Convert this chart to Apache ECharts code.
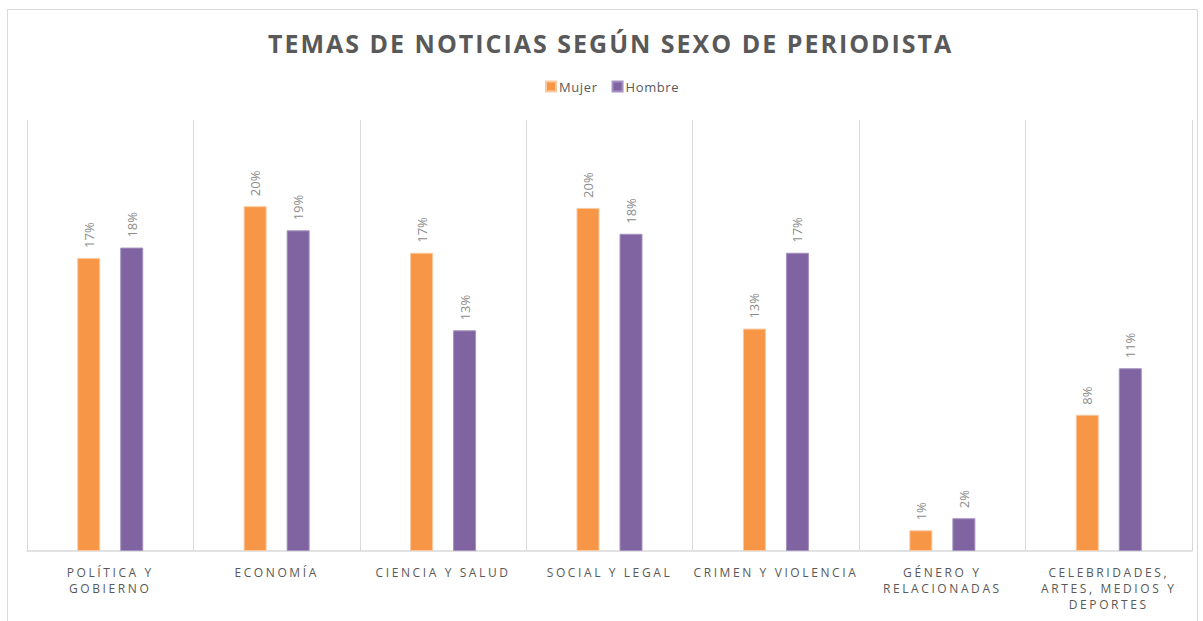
<!DOCTYPE html>
<html>
<head>
<meta charset="utf-8">
<script src="https://cdn.jsdelivr.net/npm/echarts@6/dist/echarts.min.js"></script>
<style>
  html, body { margin: 0; padding: 0; background: #fff; }
  #chart { width: 1203px; height: 621px; }
  /* spaced-out lettering like the original office chart */
  #chart text[fill="#595959"], #chart text[fill="rgb(89,89,89)"] { letter-spacing: 2px; }
  #chart text[fill="#585858"], #chart text[fill="rgb(88,88,88)"] { letter-spacing: 2.6px; }
  #chart text[fill="#5a5a5a"], #chart text[fill="rgb(90,90,90)"] { letter-spacing: 0.6px; }
</style>
</head>
<body>
<div id="chart"></div>
<script>
const titleText = "TEMAS DE NOTICIAS SEGÚN SEXO DE PERIODISTA";
const categories = [
  "POLÍTICA Y\nGOBIERNO",
  "ECONOMÍA",
  "CIENCIA Y SALUD",
  "SOCIAL Y LEGAL",
  "CRIMEN Y VIOLENCIA",
  "GÉNERO Y\nRELACIONADAS",
  "CELEBRIDADES,\nARTES, MEDIOS Y\nDEPORTES",
];
const seriesNames = ["Mujer", "Hombre"];
const mujer = [17.0, 20.0, 17.3, 19.9, 12.9, 1.2, 7.9];
const hombre = [17.6, 18.6, 12.8, 18.4, 17.3, 1.9, 10.6];

const chart = echarts.init(document.getElementById("chart"), null, { renderer: "svg" });

const labelCfg = {
  show: true,
  position: "top",
  rotate: 90,
  align: "left",
  verticalAlign: "middle",
  distance: 10,
  color: "#8c8c8c",
  fontSize: 13,
  fontFamily: "Open Sans",
  formatter: (p) => Math.round(p.value) + "%",
};

chart.setOption({
  animation: false,
  color: ["#F79646", "#8064A2"],
  title: {
    text: titleText,
    left: 263,
    top: 25,
    textStyle: { color: "#595959", fontSize: 25, fontWeight: "bold", fontFamily: "Open Sans" },
  },
  legend: {
    data: seriesNames,
    top: 75,
    left: 540,
    icon: "rect",
    itemWidth: 10,
    itemHeight: 10,
    itemGap: 17,
    textStyle: { color: "#5a5a5a", fontSize: 13, fontFamily: "Open Sans", padding: [0, 0, 0, -2] },
  },
  graphic: [
    {
      type: "rect",
      shape: { x: 7.5, y: 9.5, width: 1190, height: 640 },
      style: { fill: "none", stroke: "#d9d9d9", lineWidth: 1 },
      silent: true,
    },
  ],
  grid: { left: 27, right: 11, top: 120, bottom: 70 },
  xAxis: {
    type: "category",
    data: categories,
    axisLine: { lineStyle: { color: "#d9d9d9", width: 1.5 } },
    axisTick: { show: false },
    splitLine: { show: true, lineStyle: { color: "#d9d9d9", width: 1 } },
    axisLabel: {
      interval: 0,
      margin: 13,
      color: "#585858",
      fontSize: 12,
      lineHeight: 16,
      fontFamily: "Open Sans",
    },
  },
  yAxis: { type: "value", min: 0, max: 25, show: false, splitLine: { show: false } },
  series: [
    {
      name: seriesNames[0],
      type: "bar",
      data: mujer,
      barWidth: 23,
      barGap: "87%",
      itemStyle: { borderColor: "#fbc9a0", borderWidth: 1 },
      label: labelCfg,
    },
    {
      name: seriesNames[1],
      type: "bar",
      data: hombre,
      barWidth: 23,
      itemStyle: { borderColor: "#a591bf", borderWidth: 1 },
      label: labelCfg,
    },
  ],
});
</script>
</body>
</html>
